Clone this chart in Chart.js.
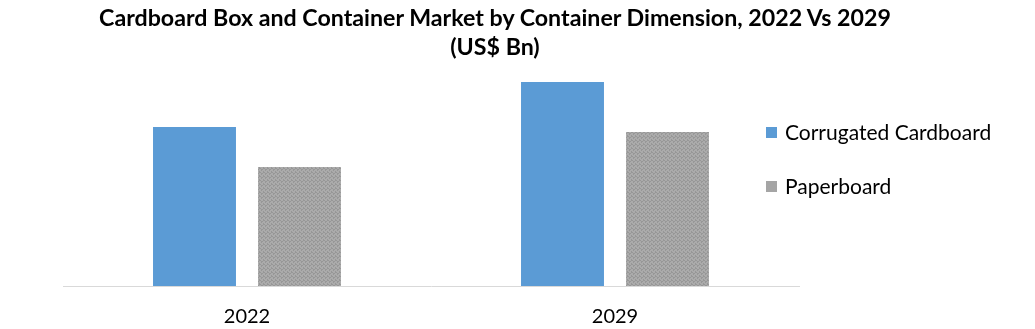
<!DOCTYPE html>
<html>
<head>
<meta charset="utf-8">
<script src="https://cdn.jsdelivr.net/npm/chart.js@4/dist/chart.umd.min.js"></script>
<style>
  html, body { margin: 0; padding: 0; background: #fff; }
  #wrap { position: relative; width: 1035px; height: 329px; overflow: hidden; }
  #c { position: absolute; left: 0; top: 0; }
  #title { position: absolute; left: 0; top: 3px; width: 990px; text-align: center;
           font-family: Lato, "Open Sans", sans-serif; font-weight: bold; font-size: 23.2px;
           line-height: 29px; color: #000; }
  .leg { position: absolute; left: 766px; font-family: Lato, "Open Sans", sans-serif;
         font-size: 21px; color: #000; height: 24px; line-height: 24px; white-space: nowrap; }
  .leg .sw { position: absolute; left: 0; top: 7px; width: 11px; height: 11px; }
  .leg .tx { position: absolute; left: 19px; top: 0; }
</style>
</head>
<body>
<div id="wrap">
  <canvas id="c" width="1035" height="329"></canvas>
  <div id="title"></div>
  <div id="legend"></div>
</div>
<script>
const titleLines = ["Cardboard Box and Container Market by Container Dimension, 2022 Vs 2029", "(US$ Bn)"];
const categories = ["2022", "2029"];
const seriesNames = ["Corrugated Cardboard", "Paperboard"];
const corrugatedValues = [15.9, 20.4];
const paperboardValues = [11.9, 15.4];
const colors = ["#5B9BD5", "#A5A5A5"];

// dithered grey pattern for paperboard
function makePattern() {
  const p = document.createElement('canvas');
  p.width = 4; p.height = 4;
  const g = p.getContext('2d');
  g.fillStyle = '#ABABAB'; g.fillRect(0, 0, 4, 4);
  g.fillStyle = '#979797';
  [[0,0],[2,1],[1,2],[3,3],[3,0],[1,1]].forEach(([x,y]) => g.fillRect(x, y, 1, 1));
  return document.getElementById('c').getContext('2d').createPattern(p, 'repeat');
}
const greyPattern = makePattern();

document.getElementById('title').innerHTML = titleLines.join('<br>');
const legendEl = document.getElementById('legend');
const legendTops = [120, 174];
seriesNames.forEach((n, i) => {
  const d = document.createElement('div');
  d.className = 'leg';
  d.style.top = legendTops[i] + 'px';
  d.innerHTML = '<span class="sw" style="background:' + colors[i] + '"></span><span class="tx">' + n + '</span>';
  legendEl.appendChild(d);
});

new Chart(document.getElementById('c'), {
  type: 'bar',
  data: {
    labels: categories,
    datasets: [
      { label: seriesNames[0], data: corrugatedValues, backgroundColor: colors[0] },
      { label: seriesNames[1], data: paperboardValues, backgroundColor: greyPattern }
    ]
  },
  options: {
    responsive: false,
    animation: false,
    devicePixelRatio: 1,
    categoryPercentage: 0.5707,
    barPercentage: 0.79,
    layout: { padding: { left: 63, right: 236, top: 66, bottom: 0 } },
    plugins: { legend: { display: false }, title: { display: false }, tooltip: { enabled: false } },
    scales: {
      x: {
        grid: { display: false, drawTicks: false },
        border: { display: true, color: '#D9D9D9', width: 1 },
        ticks: { color: '#000', padding: 19, maxRotation: 0, font: { family: 'Lato', size: 20 } },
        afterFit: (s) => { s.height = 43; }
      },
      y: { display: false, min: 0, max: 22 }
    }
  }
});
</script>
</body>
</html>
